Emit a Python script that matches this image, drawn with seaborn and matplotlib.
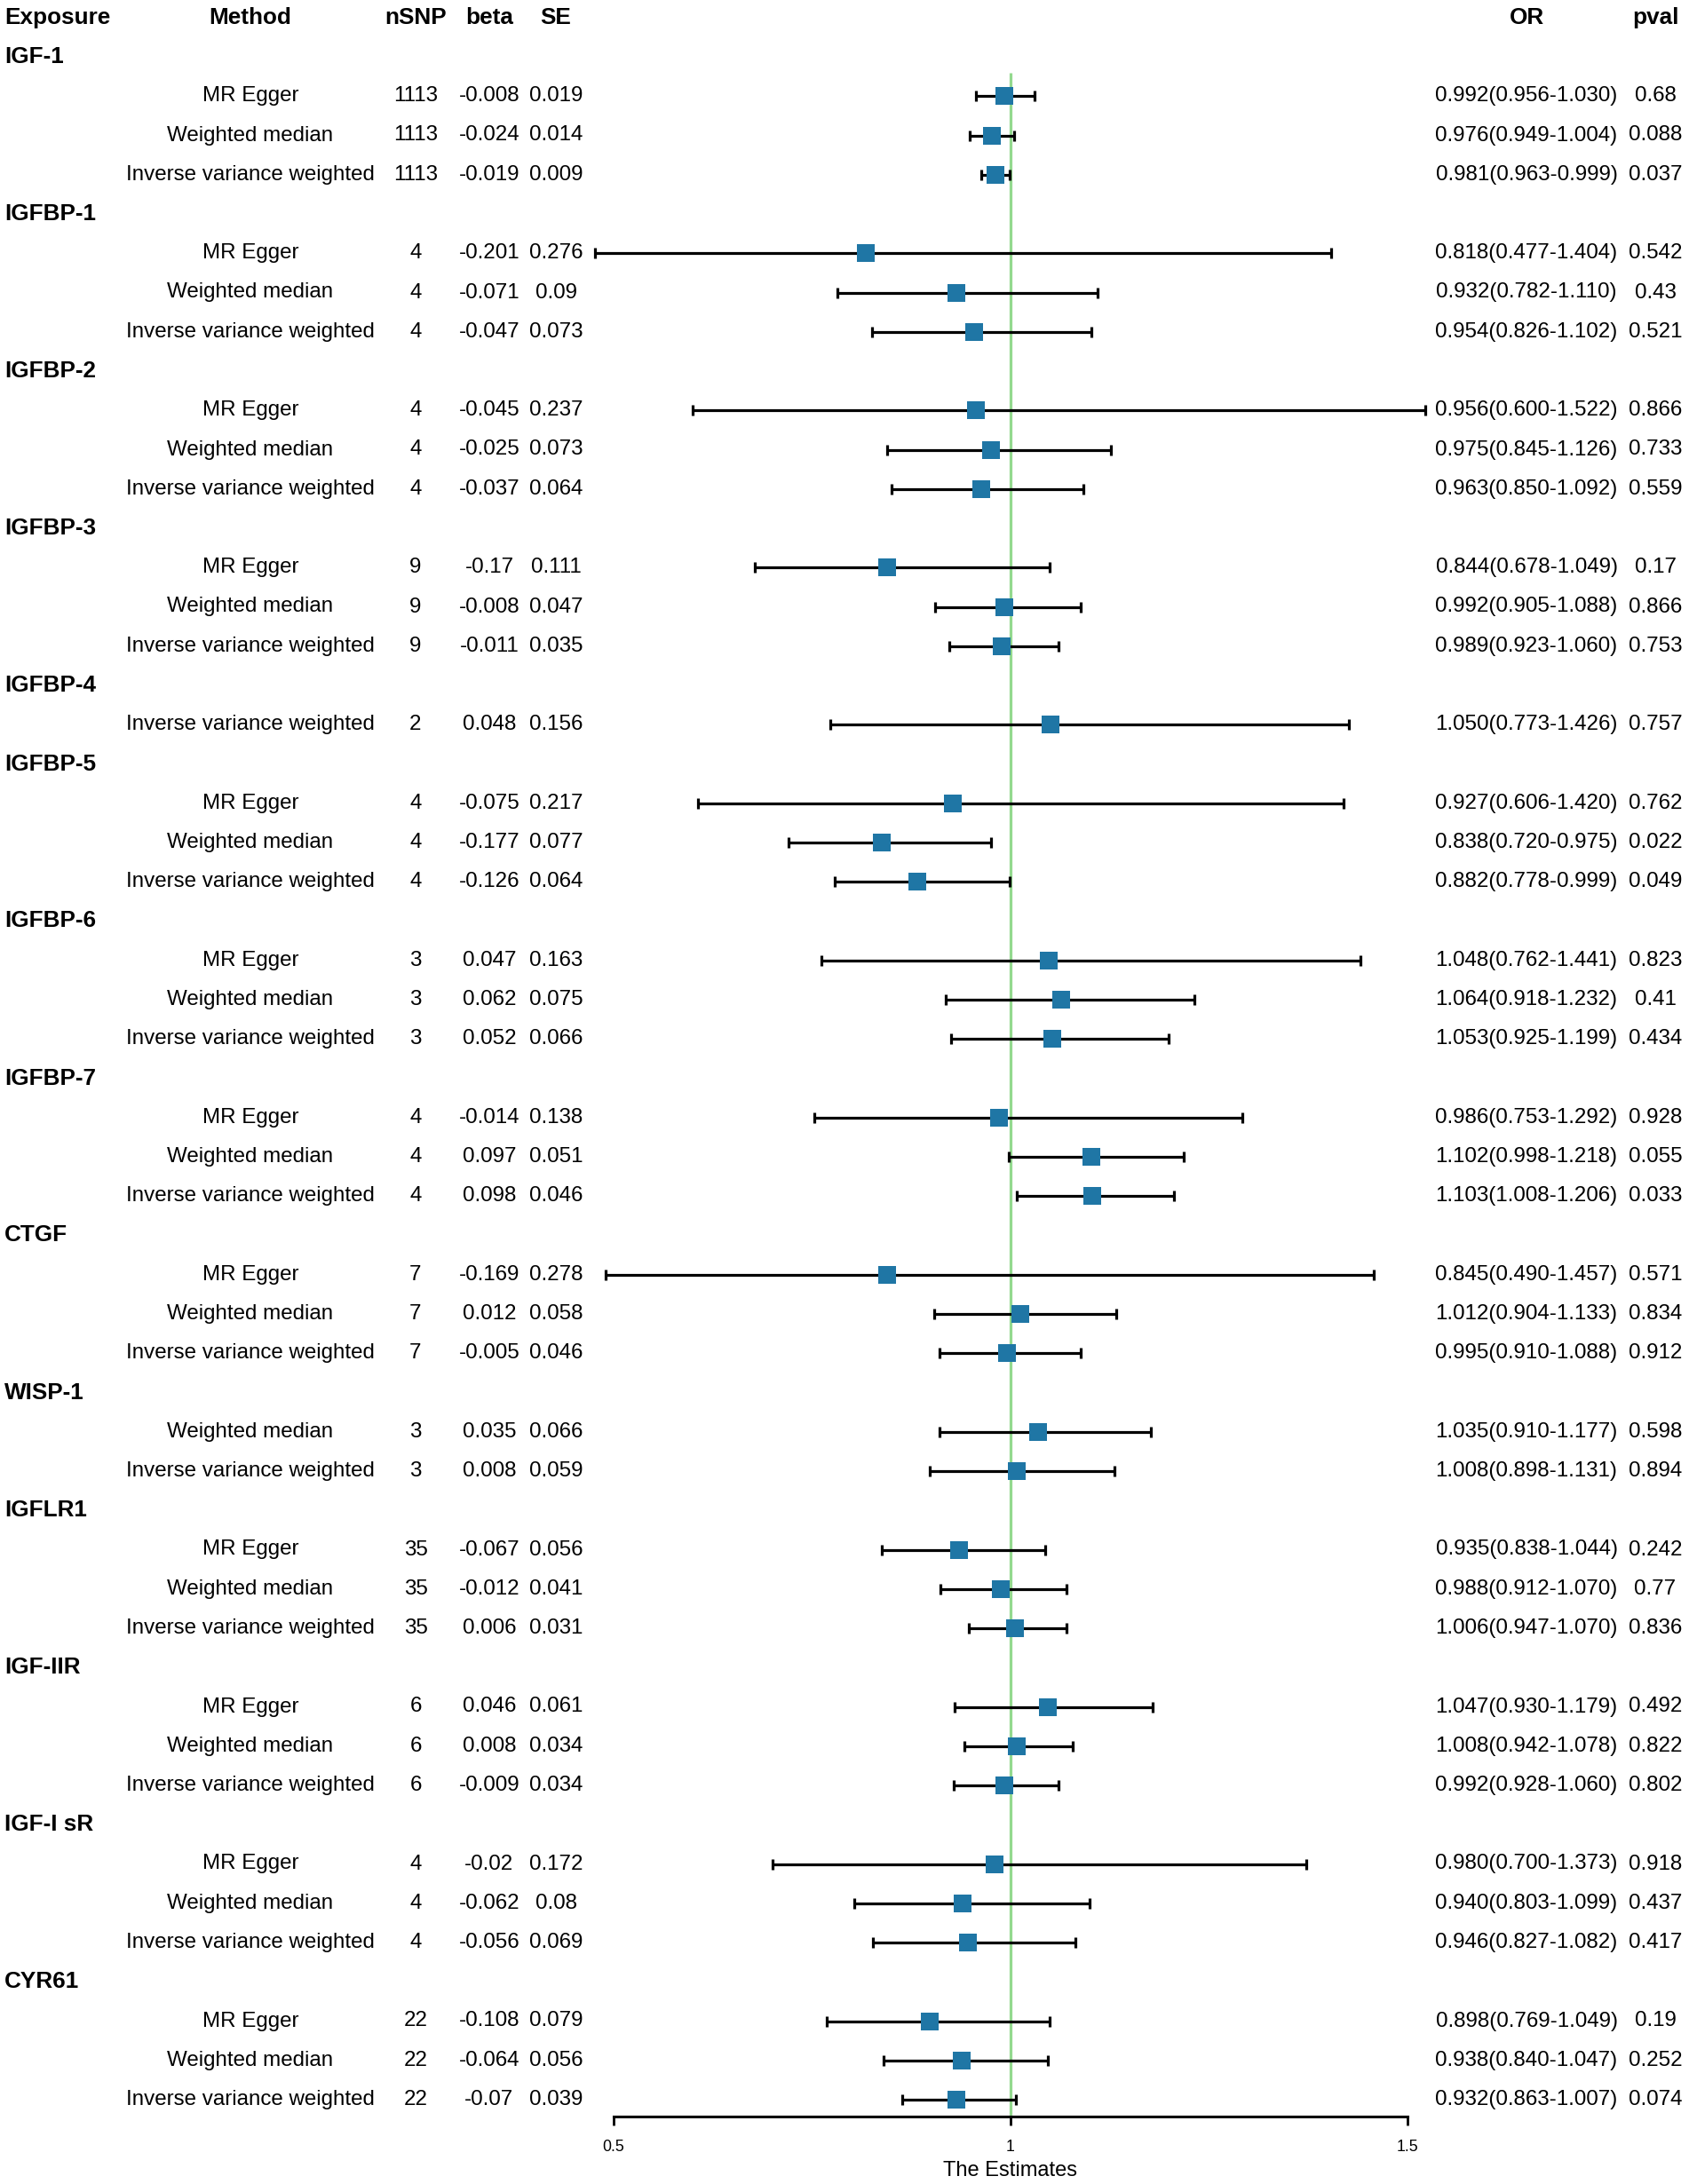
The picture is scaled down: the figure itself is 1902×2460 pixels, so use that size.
import matplotlib
matplotlib.use("Agg")

import matplotlib.pyplot as plt
import matplotlib.transforms as mtransforms
import pandas as pd
import seaborn as sns


# ---- data ------------------------------------------------------------------
exposure = (
    ["IGF-1"] * 3 + ["IGFBP-1"] * 3 + ["IGFBP-2"] * 3 + ["IGFBP-3"] * 3
    + ["IGFBP-4"] * 1 + ["IGFBP-5"] * 3 + ["IGFBP-6"] * 3 + ["IGFBP-7"] * 3
    + ["CTGF"] * 3 + ["WISP-1"] * 2 + ["IGFLR1"] * 3 + ["IGF-IIR"] * 3
    + ["IGF-I sR"] * 3 + ["CYR61"] * 3
)

ME, WM, IVW = "MR Egger", "Weighted median", "Inverse variance weighted"
method = (
    [ME, WM, IVW] * 4 + [IVW] + [ME, WM, IVW] * 4 + [WM, IVW] + [ME, WM, IVW] * 4
)

nsnp = [
    1113, 1113, 1113, 4, 4, 4, 4, 4, 4, 9, 9, 9, 2, 4, 4, 4, 3, 3, 3,
    4, 4, 4, 7, 7, 7, 3, 3, 35, 35, 35, 6, 6, 6, 4, 4, 4, 22, 22, 22,
]
beta = [
    -0.008, -0.024, -0.019, -0.201, -0.071, -0.047, -0.045, -0.025, -0.037,
    -0.17, -0.008, -0.011, 0.048, -0.075, -0.177, -0.126, 0.047, 0.062, 0.052,
    -0.014, 0.097, 0.098, -0.169, 0.012, -0.005, 0.035, 0.008, -0.067, -0.012,
    0.006, 0.046, 0.008, -0.009, -0.02, -0.062, -0.056, -0.108, -0.064, -0.07,
]
se = [
    0.019, 0.014, 0.009, 0.276, 0.09, 0.073, 0.237, 0.073, 0.064,
    0.111, 0.047, 0.035, 0.156, 0.217, 0.077, 0.064, 0.163, 0.075, 0.066,
    0.138, 0.051, 0.046, 0.278, 0.058, 0.046, 0.066, 0.059, 0.056, 0.041,
    0.031, 0.061, 0.034, 0.034, 0.172, 0.08, 0.069, 0.079, 0.056, 0.039,
]
odds = [
    0.992, 0.976, 0.981, 0.818, 0.932, 0.954, 0.956, 0.975, 0.963,
    0.844, 0.992, 0.989, 1.050, 0.927, 0.838, 0.882, 1.048, 1.064, 1.053,
    0.986, 1.102, 1.103, 0.845, 1.012, 0.995, 1.035, 1.008, 0.935, 0.988,
    1.006, 1.047, 1.008, 0.992, 0.980, 0.940, 0.946, 0.898, 0.938, 0.932,
]
or_low = [
    0.956, 0.949, 0.963, 0.477, 0.782, 0.826, 0.600, 0.845, 0.850,
    0.678, 0.905, 0.923, 0.773, 0.606, 0.720, 0.778, 0.762, 0.918, 0.925,
    0.753, 0.998, 1.008, 0.490, 0.904, 0.910, 0.910, 0.898, 0.838, 0.912,
    0.947, 0.930, 0.942, 0.928, 0.700, 0.803, 0.827, 0.769, 0.840, 0.863,
]
or_high = [
    1.030, 1.004, 0.999, 1.404, 1.110, 1.102, 1.522, 1.126, 1.092,
    1.049, 1.088, 1.060, 1.426, 1.420, 0.975, 0.999, 1.441, 1.232, 1.199,
    1.292, 1.218, 1.206, 1.457, 1.133, 1.088, 1.177, 1.131, 1.044, 1.070,
    1.070, 1.179, 1.078, 1.060, 1.373, 1.099, 1.082, 1.049, 1.047, 1.007,
]
pval = [
    0.68, 0.088, 0.037, 0.542, 0.43, 0.521, 0.866, 0.733, 0.559,
    0.17, 0.866, 0.753, 0.757, 0.762, 0.022, 0.049, 0.823, 0.41, 0.434,
    0.928, 0.055, 0.033, 0.571, 0.834, 0.912, 0.598, 0.894, 0.242, 0.77,
    0.836, 0.492, 0.822, 0.802, 0.918, 0.437, 0.417, 0.19, 0.252, 0.074,
]

x_ticks = [0.5, 1, 1.5]
x_tick_labels = ["0.5", "1", "1.5"]


# ---- row layout: one header row per exposure, then its methods --------------
rows_y = []
headers = []
y = 0
prev = None
for exp in exposure:
    if exp != prev:
        headers.append((exp, y))
        y += 1
        prev = exp
    rows_y.append(y)
    y += 1

df = pd.DataFrame(
    {
        "exposure": exposure,
        "method": method,
        "nsnp": nsnp,
        "beta": beta,
        "se": se,
        "or": odds,
        "lo": or_low,
        "hi": or_high,
        "pval": pval,
        "y": rows_y,
    }
)


# ---- figure ----------------------------------------------------------------
sns.set_theme(style="white")
plt.rcParams["font.family"] = ["Liberation Sans", "DejaVu Sans"]

W, H = 1902, 2460
fig = plt.figure(figsize=(W / 100, H / 100), dpi=100)
fig.patch.set_facecolor("white")

# plot region: 0.5 -> 691 px, 1.5 -> 1585 px ; rows at 64 px + 44.25 px * i
ROW0, STEP, AXIS_PX = 64, 44.25, 2384
y_bottom = (AXIS_PX - ROW0) / STEP
y_top = -ROW0 / STEP

ax = fig.add_axes([646.3 / W, (H - AXIS_PX) / H, 983.4 / W, AXIS_PX / H])
ax.set_facecolor("none")

ax.vlines(1, 0.4, y_bottom, color="#93d98e", lw=2.3, zorder=1, clip_on=False)

ax.errorbar(
    df["or"],
    df["y"],
    xerr=[df["or"] - df["lo"], df["hi"] - df["or"]],
    fmt="none",
    ecolor="black",
    elinewidth=2.3,
    capsize=4.3,
    capthick=2.3,
    zorder=2,
)

sns.scatterplot(
    data=df,
    x="or",
    y="y",
    marker="s",
    s=212,
    color="#1f76a5",
    linewidth=0,
    legend=False,
    zorder=3,
    ax=ax,
)

ax.set_xlim(0.45, 1.55)
ax.set_ylim(y_bottom, y_top)

sns.despine(ax=ax, left=True, top=True, right=True)
ax.spines["bottom"].set_bounds(0.5, 1.5)
ax.spines["bottom"].set_linewidth(2.2)
ax.spines["bottom"].set_color("black")

ax.set_yticks([])
ax.set_ylabel("")
ax.set_xticks(x_ticks)
ax.set_xticklabels(x_tick_labels)
ax.tick_params(
    axis="x", bottom=True, length=7, width=2, color="black",
    labelsize=12.7, pad=12, labelcolor="black",
)
ax.set_xlabel("The Estimates", fontsize=17, labelpad=5, color="black")
ax.grid(False)


# ---- text columns ----------------------------------------------------------
trans = mtransforms.blended_transform_factory(fig.transFigure, ax.transData)

col_x = {
    "exposure": 5 / W,
    "method": 282 / W,
    "nsnp": 468 / W,
    "beta": 551 / W,
    "se": 626 / W,
    "or": 1719 / W,
    "pval": 1864 / W,
}

reg = dict(fontsize=17.4, color="black", va="center", transform=trans)
bold = dict(fontsize=18.8, color="black", va="center", fontweight="bold",
            transform=trans)

ax.text(col_x["exposure"], -1, "Exposure", ha="left", **bold)
ax.text(col_x["method"], -1, "Method", ha="center", **bold)
ax.text(col_x["nsnp"], -1, "nSNP", ha="center", **bold)
ax.text(col_x["beta"], -1, "beta", ha="center", **bold)
ax.text(col_x["se"], -1, "SE", ha="center", **bold)
ax.text(col_x["or"], -1, "OR", ha="center", **bold)
ax.text(col_x["pval"], -1, "pval", ha="center", **bold)

for name, yh in headers:
    ax.text(col_x["exposure"], yh, name, ha="left", **bold)

for _, r in df.iterrows():
    yy = r["y"]
    ax.text(col_x["method"], yy, r["method"], ha="center", **reg)
    ax.text(col_x["nsnp"], yy, str(r["nsnp"]), ha="center", **reg)
    ax.text(col_x["beta"], yy, str(r["beta"]), ha="center", **reg)
    ax.text(col_x["se"], yy, str(r["se"]), ha="center", **reg)
    ax.text(col_x["or"], yy, f"{r['or']:.3f}({r['lo']:.3f}-{r['hi']:.3f})",
            ha="center", **reg)
    ax.text(col_x["pval"], yy, str(r["pval"]), ha="center", **reg)

fig.savefig("out.png", dpi=100)
